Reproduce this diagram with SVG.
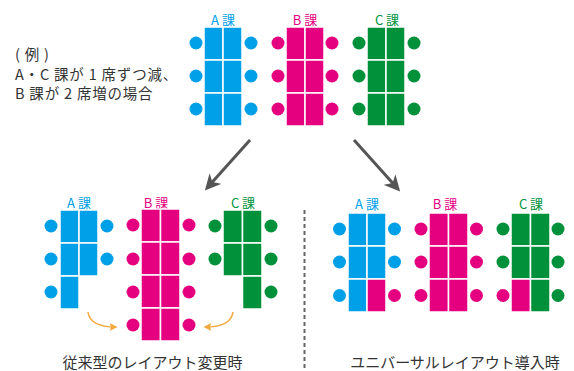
<svg xmlns="http://www.w3.org/2000/svg" width="574" height="371" viewBox="0 0 574 371">
<style>
text{font-family:"Noto Sans CJK JP","Noto Sans",sans-serif}
.b{fill:#00A0E9}.p{fill:#E4007F}.g{fill:#00913A}
.d{stroke:#fff;stroke-width:1.5}
.lbl{font-size:13px;text-anchor:middle}
.cap{font-size:15px;fill:#333}
.ex{font-size:14.5px;fill:#333;letter-spacing:0.8px}
</style>
<defs>
<marker id="ah" viewBox="0 0 10 10" refX="8" refY="5" markerWidth="16" markerHeight="16" markerUnits="userSpaceOnUse" orient="auto"><path d="M0,0 L10,5 L0,10 L3,5 z" fill="#555"/></marker>
<marker id="oh" viewBox="0 0 10 10" refX="8" refY="5" markerWidth="8" markerHeight="8" markerUnits="userSpaceOnUse" orient="auto"><path d="M0,0 L10,5 L0,10 L2,5 z" fill="#F3A83B"/></marker>
</defs>
<text class="ex" x="15" y="60">( 例 )</text>
<text class="ex" x="15" y="79.5">A・C 課が 1 席ずつ減、</text>
<text class="ex" x="15" y="99">B 課が 2 席増の場合</text>
<g id="top-A">
<text class="lbl b" x="223" y="25">A 課</text>
<rect class="d b" x="204" y="27" width="19" height="33"/><rect class="d b" x="223" y="27" width="19" height="33"/>
<rect class="d b" x="204" y="60" width="19" height="33"/><rect class="d b" x="223" y="60" width="19" height="33"/>
<rect class="d b" x="204" y="93" width="19" height="33"/><rect class="d b" x="223" y="93" width="19" height="33"/>
<circle class="b" cx="196" cy="43" r="6.5"/><circle class="b" cx="196" cy="76" r="6.5"/><circle class="b" cx="196" cy="109" r="6.5"/>
<circle class="b" cx="251" cy="43" r="6.5"/><circle class="b" cx="251" cy="76" r="6.5"/><circle class="b" cx="251" cy="109" r="6.5"/>
</g>
<g id="top-B">
<text class="lbl p" x="305" y="25">B 課</text>
<rect class="d p" x="286" y="27" width="19" height="33"/><rect class="d p" x="305" y="27" width="19" height="33"/>
<rect class="d p" x="286" y="60" width="19" height="33"/><rect class="d p" x="305" y="60" width="19" height="33"/>
<rect class="d p" x="286" y="93" width="19" height="33"/><rect class="d p" x="305" y="93" width="19" height="33"/>
<circle class="p" cx="278" cy="43" r="6.5"/><circle class="p" cx="278" cy="76" r="6.5"/><circle class="p" cx="278" cy="109" r="6.5"/>
<circle class="p" cx="332" cy="43" r="6.5"/><circle class="p" cx="332" cy="76" r="6.5"/><circle class="p" cx="332" cy="109" r="6.5"/>
</g>
<g id="top-C">
<text class="lbl g" x="387" y="25">C 課</text>
<rect class="d g" x="367" y="27" width="19" height="33"/><rect class="d g" x="386" y="27" width="19" height="33"/>
<rect class="d g" x="367" y="60" width="19" height="33"/><rect class="d g" x="386" y="60" width="19" height="33"/>
<rect class="d g" x="367" y="93" width="19" height="33"/><rect class="d g" x="386" y="93" width="19" height="33"/>
<circle class="g" cx="359" cy="43" r="6.5"/><circle class="g" cx="359" cy="76" r="6.5"/><circle class="g" cx="359" cy="109" r="6.5"/>
<circle class="g" cx="414" cy="43" r="6.5"/><circle class="g" cx="414" cy="76" r="6.5"/><circle class="g" cx="414" cy="109" r="6.5"/>
</g>
<g id="left-A">
<text class="lbl b" x="79" y="208">A 課</text>
<rect class="d b" x="60" y="210" width="19" height="33"/><rect class="d b" x="79" y="210" width="19" height="33"/>
<rect class="d b" x="60" y="243" width="19" height="33"/><rect class="d b" x="79" y="243" width="19" height="33"/>
<rect class="d b" x="60" y="276" width="19" height="33"/>
<circle class="b" cx="51" cy="226" r="6.5"/><circle class="b" cx="51" cy="259" r="6.5"/><circle class="b" cx="51" cy="292" r="6.5"/>
<circle class="b" cx="107" cy="226" r="6.5"/><circle class="b" cx="107" cy="259" r="6.5"/>
</g>
<g id="left-B">
<text class="lbl p" x="156" y="208">B 課</text>
<rect class="d p" x="141" y="209" width="19.5" height="33"/><rect class="d p" x="160.5" y="209" width="19.5" height="33"/>
<rect class="d p" x="141" y="242" width="19.5" height="33"/><rect class="d p" x="160.5" y="242" width="19.5" height="33"/>
<rect class="d p" x="141" y="275" width="19.5" height="33"/><rect class="d p" x="160.5" y="275" width="19.5" height="33"/>
<rect class="d p" x="141" y="308" width="19.5" height="33"/><rect class="d p" x="160.5" y="308" width="19.5" height="33"/>
<circle class="p" cx="133" cy="225" r="6.5"/><circle class="p" cx="133" cy="259" r="6.5"/><circle class="p" cx="133" cy="292" r="6.5"/><circle class="p" cx="133" cy="325" r="6.5"/>
<circle class="p" cx="189" cy="225" r="6.5"/><circle class="p" cx="189" cy="259" r="6.5"/><circle class="p" cx="189" cy="292" r="6.5"/><circle class="p" cx="189" cy="325" r="6.5"/>
</g>
<g id="left-C">
<text class="lbl g" x="243" y="208">C 課</text>
<rect class="d g" x="223" y="210" width="19.5" height="33"/><rect class="d g" x="242.5" y="210" width="19.5" height="33"/>
<rect class="d g" x="223" y="243" width="19.5" height="33"/><rect class="d g" x="242.5" y="243" width="19.5" height="33"/>
<rect class="d g" x="242.5" y="276" width="19.5" height="33"/>
<circle class="g" cx="215" cy="226" r="6.5"/><circle class="g" cx="215" cy="259" r="6.5"/>
<circle class="g" cx="271" cy="226" r="6.5"/><circle class="g" cx="271" cy="259" r="6.5"/><circle class="g" cx="271" cy="292" r="6.5"/>
</g>
<g id="right-A">
<text class="lbl b" x="367" y="209">A 課</text>
<rect class="d b" x="348" y="213" width="19" height="33"/><rect class="d b" x="367" y="213" width="19" height="33"/>
<rect class="d b" x="348" y="246" width="19" height="33"/><rect class="d b" x="367" y="246" width="19" height="33"/>
<rect class="d b" x="348" y="279" width="19" height="33"/><rect class="d p" x="367" y="279" width="19" height="33"/>
<circle class="b" cx="339.5" cy="229" r="6.5"/><circle class="b" cx="339.5" cy="262" r="6.5"/><circle class="b" cx="339.5" cy="295.5" r="6.5"/>
<circle class="b" cx="394.5" cy="229" r="6.5"/><circle class="b" cx="394.5" cy="262" r="6.5"/><circle class="p" cx="394.5" cy="295.5" r="6.5"/>
</g>
<g id="right-B">
<text class="lbl p" x="445" y="209">B 課</text>
<rect class="d p" x="429" y="213" width="19.5" height="33"/><rect class="d p" x="448.5" y="213" width="19.5" height="33"/>
<rect class="d p" x="429" y="246" width="19.5" height="33"/><rect class="d p" x="448.5" y="246" width="19.5" height="33"/>
<rect class="d p" x="429" y="279" width="19.5" height="33"/><rect class="d p" x="448.5" y="279" width="19.5" height="33"/>
<circle class="p" cx="421" cy="229" r="6.5"/><circle class="p" cx="421" cy="262" r="6.5"/><circle class="p" cx="421" cy="295.5" r="6.5"/>
<circle class="p" cx="476.5" cy="229" r="6.5"/><circle class="p" cx="476.5" cy="262" r="6.5"/><circle class="p" cx="476.5" cy="295.5" r="6.5"/>
</g>
<g id="right-C">
<text class="lbl g" x="531" y="209">C 課</text>
<rect class="d g" x="511" y="213" width="19.5" height="33"/><rect class="d g" x="530.5" y="213" width="19.5" height="33"/>
<rect class="d g" x="511" y="246" width="19.5" height="33"/><rect class="d g" x="530.5" y="246" width="19.5" height="33"/>
<rect class="d p" x="511" y="279" width="19.5" height="33"/><rect class="d g" x="530.5" y="279" width="19.5" height="33"/>
<circle class="g" cx="503" cy="229" r="6.5"/><circle class="g" cx="503" cy="262" r="6.5"/><circle class="p" cx="503" cy="295.5" r="6.5"/>
<circle class="g" cx="558" cy="229" r="6.5"/><circle class="g" cx="558" cy="262" r="6.5"/><circle class="g" cx="558" cy="295.5" r="6.5"/>
</g>
<g id="connectors" fill="none">
<line x1="250" y1="140" x2="207" y2="188" stroke="#555" stroke-width="3" marker-end="url(#ah)"/>
<line x1="354" y1="140" x2="398" y2="189" stroke="#555" stroke-width="3" marker-end="url(#ah)"/>
<path d="M88,312 Q90,327 116,327" stroke="#F3A83B" stroke-width="1.5" marker-end="url(#oh)"/>
<path d="M233,312 Q231,327 205,327" stroke="#F3A83B" stroke-width="1.5" marker-end="url(#oh)"/>
<line x1="304.5" y1="210" x2="304.5" y2="371" stroke="#666" stroke-width="2" stroke-dasharray="4,3"/>
</g>
<text class="cap" x="152.5" y="368" text-anchor="middle">従来型のレイアウト変更時</text>
<text class="cap" x="455" y="368" text-anchor="middle">ユニバーサルレイアウト導入時</text>
</svg>
